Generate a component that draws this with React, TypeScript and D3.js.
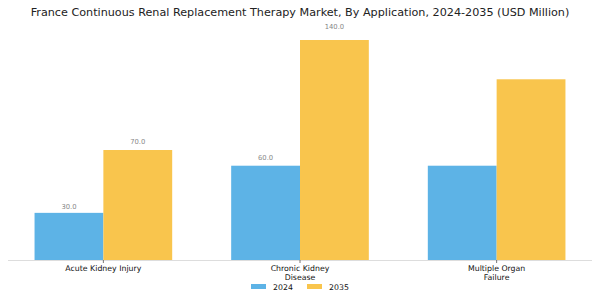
import React from "react";
import * as d3 from "d3";

const categories = ["Acute Kidney Injury", "Chronic Kidney\nDisease", "Multiple Organ\nFailure"];
const years = ["2024", "2035"];
const values2024 = [30, 60, 60];
const values2035 = [70, 140, 115];
// labels shown in the source (the last group has none)
const showLabel = [true, true, false];

const colors = ["#5DB3E6", "#F9C54D"];
const W = 600;
const H = 300;
const barW = 0.35;

export default function App() {
  const x = d3.scaleLinear().domain([-0.485, 2.485]).range([8, 592]);
  const y = d3.scaleLinear().domain([0, 147]).range([260, 29]);
  const series = [values2024, values2035];
  const font = "DejaVu Sans, sans-serif";

  return (
    <svg width={W} height={H} style={{ position: "absolute", left: 0, top: 0 }} fontFamily={font}>
      <rect width={W} height={H} fill="#fff" />
      <text x={300} y={16} textAnchor="middle" fontSize={11.2} fill="#222">
        France Continuous Renal Replacement Therapy Market, By Application, 2024-2035 (USD Million)
      </text>
      {series.map((vals, s) =>
        vals.map((v, i) => {
          const x0 = x(i + (s === 0 ? -barW : 0));
          const w = x(i + barW) - x(i);
          return (
            <g key={`${s}-${i}`}>
              <rect x={x0} y={y(v)} width={w} height={y(0) - y(v)} fill={colors[s]} />
              {showLabel[i] && (
                <text
                  x={x0 + w / 2}
                  y={y(v) - 4 - v * 0.07 + 2.4}
                  textAnchor="middle"
                  fontSize={6.8}
                  fill="#888"
                >
                  {v.toFixed(1)}
                </text>
              )}
            </g>
          );
        })
      )}
      <line x1={x(-0.485)} x2={x(2.485)} y1={y(0) + 0.5} y2={y(0) + 0.5} stroke="#ddd" />
      {categories.map((c, i) => (
        <g key={c}>
          <line x1={x(i)} x2={x(i)} y1={y(0)} y2={y(0) + 3} stroke="#555" strokeWidth={0.8} />
          {c.split("\n").map((ln, k) => (
            <text key={k} x={x(i)} y={271 + k * 9} textAnchor="middle" fontSize={7.8} fill="#111">
              {ln}
            </text>
          ))}
        </g>
      ))}
      {years.map((yr, s) => (
        <g key={yr} transform={`translate(${251 + s * 56},0)`}>
          <rect x={0} y={284} width={15} height={5} fill={colors[s]} />
          <text x={22} y={290} fontSize={7.8} fill="#111">
            {yr}
          </text>
        </g>
      ))}
    </svg>
  );
}
